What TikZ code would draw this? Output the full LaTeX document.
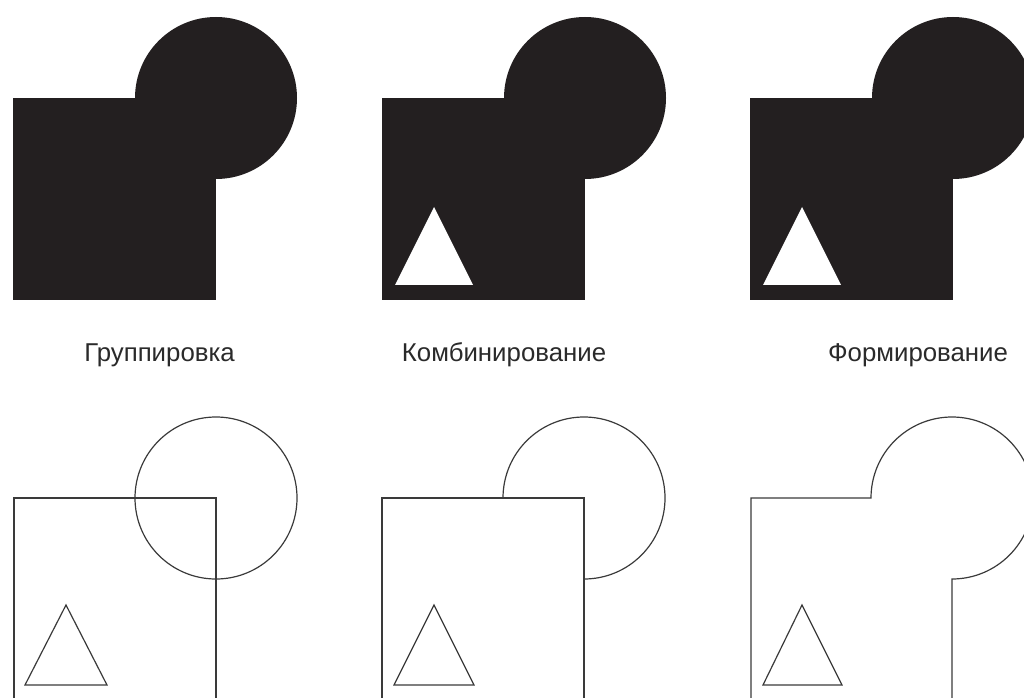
\documentclass[tikz,border=0pt]{standalone}
\usepackage{fontspec}
\setmainfont{Liberation Sans}
\definecolor{shapeblack}{HTML}{231F20}
\definecolor{linegray}{HTML}{3A3A3A}
\definecolor{textgray}{HTML}{2A2A2A}
\begin{document}
\begin{tikzpicture}[x=1pt,y=1pt,
  blk/.style={fill=shapeblack,draw=none},
  hole/.style={fill=white,draw=none},
  outl/.style={draw=linegray,line width=1.2pt,line join=miter},
  lbl/.style={font=\fontsize{25.8}{30}\selectfont,text=textgray,anchor=base,inner sep=0pt}]
\useasboundingbox (0,0) rectangle (1024,697);
\clip (0,0) rectangle (1024,697);
% ---- top row: filled shapes ----
% grouping
\fill[blk] (13,397) rectangle (216,599);
\fill[blk] (216,599) circle (81);
% combining
\fill[blk] (382,397) rectangle (585,599);
\fill[blk] (585,599) circle (81);
\fill[hole] (395,412) -- (434,490) -- (473,412) -- cycle;
% shaping
\fill[blk] (750,397) rectangle (953,599);
\fill[blk] (953,599) circle (81);
\fill[hole] (763,412) -- (802,490) -- (841,412) -- cycle;
% ---- labels ----
\node[lbl] (g) at (159.5,335.5) {Группировка};
\node[lbl] (k) at (504,335.5) {Комбинирование};
\node[lbl] (f) at (918,335.5) {Формирование};
% ---- bottom row: outlines ----
% grouping
\draw[outl] (14,-10) -- (14,199) -- (216,199) -- (216,-10);
\draw[outl] (216,199) circle (81);
\draw[outl] (25,12) -- (66,92) -- (107,12) -- cycle;
% combining
\draw[outl] (382,-10) -- (382,199) -- (584,199) -- (584,-10);
\draw[outl] (503,199) arc[start angle=180,end angle=-90,radius=81];
\draw[outl] (394,12) -- (434,92) -- (474,12) -- cycle;
% shaping
\draw[outl] (751,-10) -- (751,199) -- (871,199)
  arc[start angle=180,end angle=-90,radius=81] -- (952,-10);
\draw[outl] (763,12) -- (802,92) -- (842,12) -- cycle;
\end{tikzpicture}
\end{document}
